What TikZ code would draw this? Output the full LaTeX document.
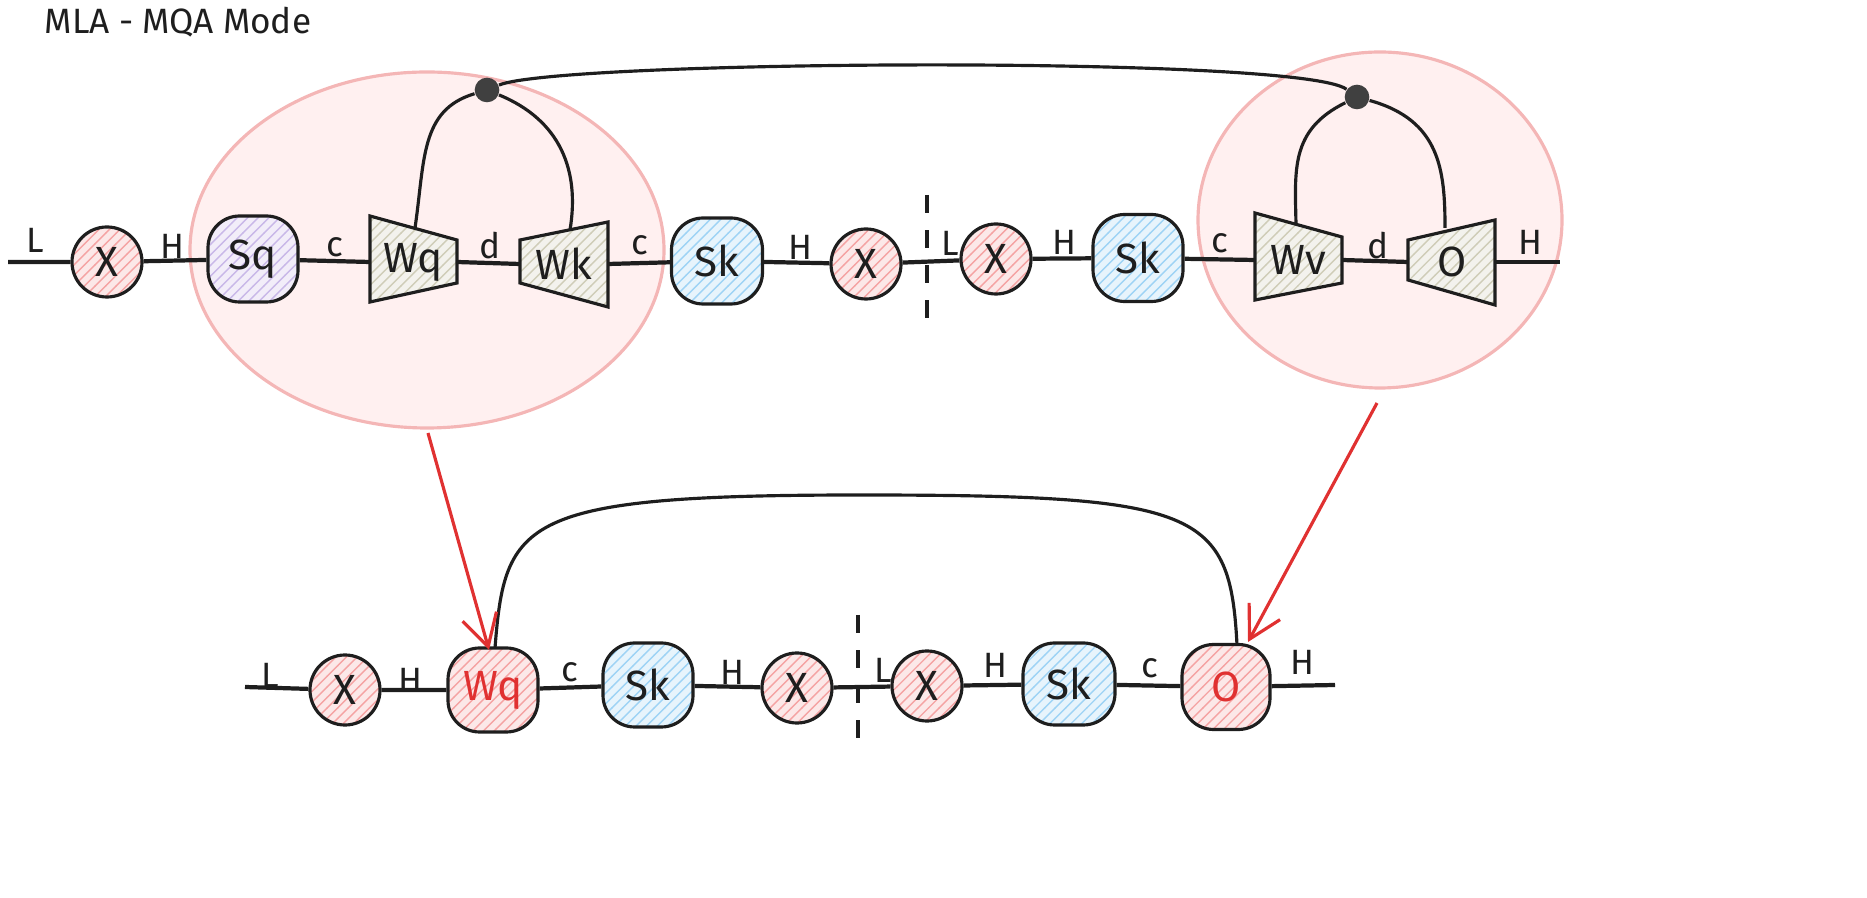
\documentclass[tikz,border=0pt]{standalone}
\usepackage{fontspec}
\setmainfont{Fira Sans}
\usetikzlibrary{patterns,arrows.meta}
\definecolor{pinkfill}{HTML}{FFF0F0}
\definecolor{pinkline}{HTML}{F4B6B6}
\definecolor{hred}{HTML}{F5A3A3}
\definecolor{hblue}{HTML}{9ED3F5}
\definecolor{hpurp}{HTML}{C9B8E8}
\definecolor{hgray}{HTML}{CFCDB8}
\definecolor{dred}{HTML}{E03131}
\definecolor{ink}{HTML}{1E1E1E}
\newdimen\pgfdimen \pgfdimen=0.01cm
\tikzset{
  every node/.style={font=\large, text=ink},
  lbl/.style={font=\normalsize},
  wire/.style={draw=ink, line width=1.2pt},
  bx/.style={draw=ink, line width=0.9pt, rounded corners=9pt},
  hat/.style={preaction={fill=#1!25}, pattern=north east lines, pattern color=#1},
  circ/.style={draw=ink, line width=0.9pt, circle, minimum size=70\pgfdimen, hat=hred},
  blob/.style={draw=pinkline, fill=pinkfill, line width=0.9pt},
  dot/.style={circle, fill=ink!85, inner sep=0pt, minimum size=7pt},
  link/.style={draw=ink, line width=0.9pt},
  redarr/.style={draw=dred, line width=0.9pt, -{Straight Barb[length=9pt,width=10pt]}},
  vdash/.style={draw=ink, line width=0.9pt, dash pattern=on 5pt off 5pt},
}
\begin{document}
\begin{tikzpicture}[x=0.01cm,y=-0.01cm]
\node[font=\normalsize] (title) at (178,22) {MLA - MQA Mode};
% blobs
\draw[blob] (427,250) ellipse (237 and 178);
\draw[blob] (1380,220) ellipse (182 and 168);
% ---- top row
\coordinate (tL) at (8,262);
\node[circ, minimum size=70\pgfdimen] (x1) at (107,262) {X};
\node[bx, hat=hpurp, minimum width=90\pgfdimen, minimum height=86\pgfdimen] (sq) at (253,259) {Sq};
\draw[draw=ink, line width=0.9pt, hat=hgray] (370,216) -- (457,240) -- (457,283) -- (370,302) -- cycle;
\node (wq) at (413,262) {Wq};
\coordinate (wqL) at (370,262); \coordinate (wqR) at (457,262);
\draw[draw=ink, line width=0.9pt, hat=hgray] (520,240) -- (608,222) -- (608,307) -- (520,283) -- cycle;
\node (wk) at (564,264) {Wk};
\coordinate (wkL) at (520,264); \coordinate (wkR) at (608,264);
\node[bx, hat=hblue, minimum width=91\pgfdimen, minimum height=86\pgfdimen] (sk1) at (717,261) {Sk};
\node[circ, minimum size=70\pgfdimen] (x2) at (866,264) {X};
\node[circ, minimum size=68\pgfdimen] (x3) at (996,259) {X};
\node[bx, hat=hblue, minimum width=90\pgfdimen, minimum height=87\pgfdimen] (sk2) at (1138,258) {Sk};
\draw[draw=ink, line width=0.9pt, hat=hgray] (1255,213) -- (1342,237) -- (1342,283) -- (1255,300) -- cycle;
\node (wv) at (1298,260) {Wv};
\coordinate (wvL) at (1255,260); \coordinate (wvR) at (1342,260);
\draw[draw=ink, line width=0.9pt, hat=hgray] (1408,240) -- (1495,220) -- (1495,305) -- (1408,280) -- cycle;
\node (o1) at (1452,262) {O};
\coordinate (oL) at (1408,262); \coordinate (oR) at (1495,262);
\coordinate (tR) at (1560,262);
\draw[wire] (tL) -- (x1) -- (sq) -- (wqL);
\draw[wire] (wqR) -- (wkL);
\draw[wire] (wkR) -- (sk1) -- (x2) -- (x3) -- (sk2) -- (wvL);
\draw[wire] (wvR) -- (oL);
\draw[wire] (oR) -- (tR);
\node[lbl] at (35,240) {L};
\node[lbl] at (172,246) {H};
\node[lbl] at (335,247) {c};
\node[lbl] at (490,246) {d};
\node[lbl] at (640,245) {c};
\node[lbl] at (800,247) {H};
\node[lbl] at (950,243) {L};
\node[lbl] at (1064,242) {H};
\node[lbl] at (1220,243) {c};
\node[lbl] at (1378,246) {d};
\node[lbl] at (1530,242) {H};
\coordinate (d1a) at (927,195); \coordinate (d1b) at (927,325);
\draw[vdash] (d1a) -- (d1b);
% dots and links
\node[dot] (p1) at (487,90) {};
\node[dot] (p2) at (1357,97) {};
\coordinate (wqT) at (415,228); \coordinate (wkT) at (570,230);
\coordinate (wvT) at (1296,225); \coordinate (oT) at (1445,228);
\draw[link] (p1) .. controls (420,110) and (425,160) .. (wqT);
\draw[link] (p1) .. controls (560,120) and (580,170) .. (wkT);
\draw[link] (p2) .. controls (1290,130) and (1295,170) .. (wvT);
\draw[link] (p2) .. controls (1440,120) and (1445,170) .. (oT);
\draw[link] (p1) .. controls (560,60) and (1300,55) .. (p2);
% ---- bottom row
\coordinate (bL) at (245,687);
\node[circ, minimum size=70\pgfdimen] (x4) at (345,690) {X};
\node[bx, hat=hred, minimum width=90\pgfdimen, minimum height=84\pgfdimen] (wq2) at (493,690) {\textcolor{dred}{Wq}};
\node[bx, hat=hblue, minimum width=90\pgfdimen, minimum height=84\pgfdimen] (sk3) at (648,685) {Sk};
\node[circ, minimum size=70\pgfdimen] (x5) at (797,688) {X};
\node[circ, minimum size=70\pgfdimen] (x6) at (927,686) {X};
\node[bx, hat=hblue, minimum width=92\pgfdimen, minimum height=82\pgfdimen] (sk4) at (1069,684) {Sk};
\node[bx, hat=hred, minimum width=88\pgfdimen, minimum height=85\pgfdimen] (o2) at (1226,687) {\textcolor{dred}{O}};
\coordinate (bR) at (1335,685);
\draw[wire] (bL) -- (x4) -- (wq2) -- (sk3) -- (x5) -- (x6) -- (sk4) -- (o2) -- (bR);
\node[lbl] at (270,675) {L};
\node[lbl] at (410,680) {H};
\node[lbl] at (570,672) {c};
\node[lbl] at (732,672) {H};
\node[lbl] at (883,670) {L};
\node[lbl] at (995,665) {H};
\node[lbl] at (1150,668) {c};
\node[lbl] at (1302,662) {H};
\coordinate (d2a) at (858,615); \coordinate (d2b) at (858,745);
\draw[vdash] (d2a) -- (d2b);
\coordinate (wq2T) at (495,648); \coordinate (o2T) at (1237,645);
\draw[link] (wq2T) .. controls (505,520) and (520,495) .. (860,495) .. controls (1200,495) and (1230,510) .. (o2T);
% red arrows
\coordinate (ra1) at (428,433); \coordinate (ra1e) at (489,650);
\coordinate (ra2) at (1377,403); \coordinate (ra2e) at (1248,642);
\draw[redarr] (ra1) -- (ra1e);
\draw[redarr] (ra2) -- (ra2e);
\pgfresetboundingbox
\useasboundingbox (0,0) rectangle (1867,898);
\end{tikzpicture}
\end{document}
